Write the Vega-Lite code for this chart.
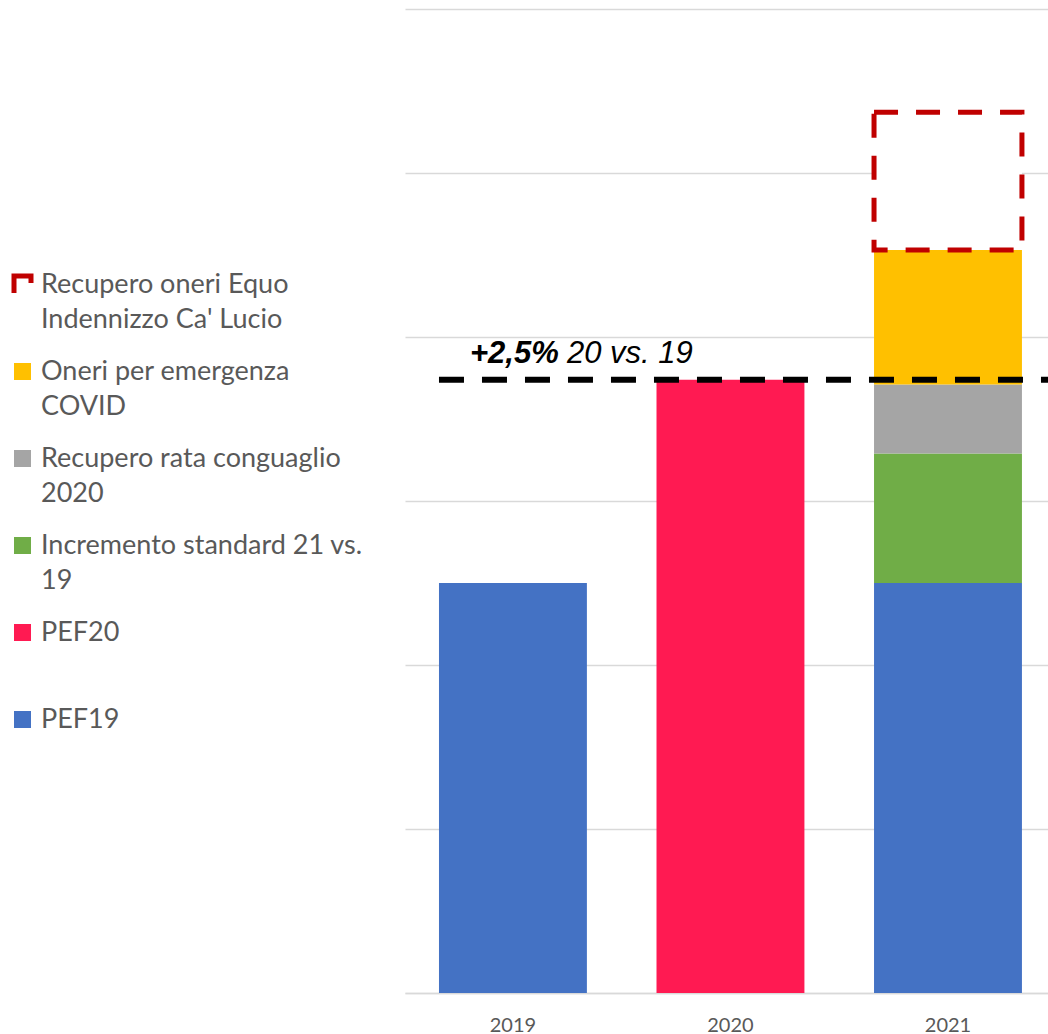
{
  "$schema": "https://vega.github.io/schema/vega-lite/v6.json",
  "autosize": {"type": "none"},
  "width": 643,
  "height": 984,
  "padding": {"left": 405, "top": 9, "right": 0, "bottom": 41},
  "background": "white",
  "datasets": {
    "bars": [
      {"anno": "2019", "voce": "PEF19", "valore": 2.5, "ordine": 1},
      {"anno": "2020", "voce": "PEF20", "valore": 3.74, "ordine": 1},
      {"anno": "2021", "voce": "PEF19", "valore": 2.5, "ordine": 1},
      {"anno": "2021", "voce": "Incremento standard 21 vs. 19", "valore": 0.79, "ordine": 2},
      {"anno": "2021", "voce": "Recupero rata conguaglio 2020", "valore": 0.42, "ordine": 3},
      {"anno": "2021", "voce": "Oneri per emergenza COVID", "valore": 0.82, "ordine": 4},
      {"anno": "2021", "voce": "Recupero oneri Equo Indennizzo Ca' Lucio", "valore": 0.84, "ordine": 5}
    ],
    "note": [
      {"anno": "2019", "valore": 3.74, "delta": "+2,5%", "desc": "20 vs. 19"}
    ]
  },
  "layer": [
    {
      "data": {"name": "bars"},
      "mark": {"type": "bar"},
      "encoding": {
        "x": {"field": "anno", "type": "nominal", "title": null,
              "scale": {"domain": ["2019", "2020", "2021"], "paddingInner": 0.32, "paddingOuter": 0.138, "align": 0.566}},
        "y": {"field": "valore", "type": "quantitative", "title": null, "stack": "zero",
              "scale": {"domain": [0, 6], "nice": false}},
        "color": {
          "field": "voce", "type": "nominal",
          "scale": {
            "domain": ["Recupero oneri Equo Indennizzo Ca' Lucio", "Oneri per emergenza COVID", "Recupero rata conguaglio 2020", "Incremento standard 21 vs. 19", "PEF20", "PEF19"],
            "range": ["white", "#FFC000", "#A5A5A5", "#70AD47", "#FF1A52", "#4472C4"]
          },
          "legend": {
            "title": null,
            "orient": "none",
            "legendX": -396,
            "legendY": 262,
            "direction": "vertical",
            "columns": 1,
            "gridAlign": "all",
            "rowPadding": 20,
            "symbolType": "square",
            "symbolSize": 289,
            "symbolStrokeWidth": 5,
            "symbolDash": [24, 27, 17],
            "labelFont": "Lato",
            "labelFontSize": 27,
            "labelColor": "#595959",
            "labelOffset": 5,
            "labelLimit": 400,
            "labelBaseline": "middle",
            "labelExpr": "datum.label === \"Recupero oneri Equo Indennizzo Ca' Lucio\" ? [\"Recupero oneri Equo\", \"Indennizzo Ca' Lucio\"] : datum.label === \"Oneri per emergenza COVID\" ? [\"Oneri per emergenza\", \"COVID\"] : datum.label === \"Recupero rata conguaglio 2020\" ? [\"Recupero rata conguaglio\", \"2020\"] : datum.label === \"Incremento standard 21 vs. 19\" ? [\"Incremento standard 21 vs.\", \"19\"] : datum.label"
          }
        },
        "stroke": {
          "field": "voce", "type": "nominal",
          "scale": {
            "domain": ["Recupero oneri Equo Indennizzo Ca' Lucio", "Oneri per emergenza COVID", "Recupero rata conguaglio 2020", "Incremento standard 21 vs. 19", "PEF20", "PEF19"],
            "range": ["#C00000", "transparent", "transparent", "transparent", "transparent", "transparent"]
          },
          "legend": {
            "title": null,
            "orient": "none",
            "legendX": -396,
            "legendY": 262,
            "direction": "vertical",
            "columns": 1,
            "gridAlign": "all",
            "rowPadding": 20,
            "symbolType": "square",
            "symbolSize": 289,
            "symbolStrokeWidth": 5,
            "symbolDash": [24, 27, 17],
            "labelFont": "Lato",
            "labelFontSize": 27,
            "labelColor": "#595959",
            "labelOffset": 5,
            "labelLimit": 400,
            "labelBaseline": "middle",
            "labelExpr": "datum.label === \"Recupero oneri Equo Indennizzo Ca' Lucio\" ? [\"Recupero oneri Equo\", \"Indennizzo Ca' Lucio\"] : datum.label === \"Oneri per emergenza COVID\" ? [\"Oneri per emergenza\", \"COVID\"] : datum.label === \"Recupero rata conguaglio 2020\" ? [\"Recupero rata conguaglio\", \"2020\"] : datum.label === \"Incremento standard 21 vs. 19\" ? [\"Incremento standard 21 vs.\", \"19\"] : datum.label"
          }
        },
        "order": {"field": "ordine", "type": "quantitative"},
        "strokeWidth": {"condition": {"test": "datum.voce === \"Recupero oneri Equo Indennizzo Ca' Lucio\"", "value": 5}, "value": 0},
        "strokeDash": {"condition": {"test": "datum.voce === \"Recupero oneri Equo Indennizzo Ca' Lucio\"", "value": [24, 18]}, "value": [1, 0]}
      }
    },
    {
      "data": {"name": "note"},
      "mark": {"type": "rule", "color": "black", "strokeWidth": 6, "strokeDash": [25, 18]},
      "encoding": {
        "x": {"field": "anno", "type": "nominal", "title": null, "bandPosition": 0},
        "x2": {"value": "width"},
        "y": {"field": "valore", "type": "quantitative", "title": null}
      }
    },
    {
      "data": {"name": "note"},
      "mark": {"type": "text", "align": "left", "baseline": "alphabetic", "font": "Liberation Sans", "fontSize": 31, "fontStyle": "italic", "fontWeight": "bold", "dx": 31, "dy": -17, "color": "black"},
      "encoding": {
        "x": {"field": "anno", "type": "nominal", "title": null, "bandPosition": 0},
        "y": {"field": "valore", "type": "quantitative", "title": null},
        "text": {"field": "delta", "type": "nominal"}
      }
    },
    {
      "data": {"name": "note"},
      "mark": {"type": "text", "align": "left", "baseline": "alphabetic", "font": "Liberation Sans", "fontSize": 31, "fontStyle": "italic", "fontWeight": "normal", "dx": 128, "dy": -17, "color": "black"},
      "encoding": {
        "x": {"field": "anno", "type": "nominal", "title": null, "bandPosition": 0},
        "y": {"field": "valore", "type": "quantitative", "title": null},
        "text": {"field": "desc", "type": "nominal"}
      }
    }
  ],
  "config": {
    "view": {"stroke": null},
    "font": "Lato",
    "style": {"guide-label": {"lineHeight": 35}},
    "axisX": {"labelFont": "Lato", "labelFontSize": 20, "labelColor": "#595959", "labelPadding": 22, "labelAngle": 0, "ticks": false, "domainColor": "#D9D9D9", "domainWidth": 1.5, "grid": false},
    "axisY": {"labels": false, "ticks": false, "domain": false, "grid": true, "gridColor": "#D9D9D9", "gridWidth": 1.5, "tickCount": 6}
  }
}
